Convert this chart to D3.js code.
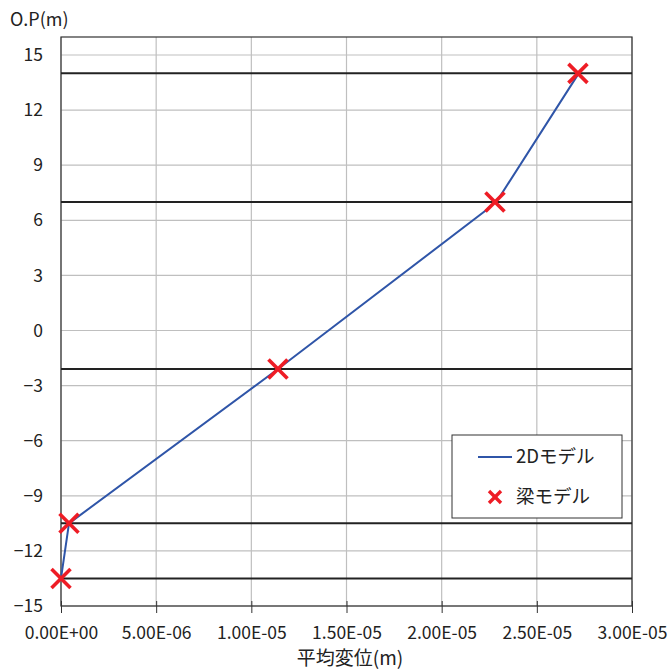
<!DOCTYPE html>
<html><head><meta charset="utf-8">
<script src="https://cdn.jsdelivr.net/npm/d3@7"></script>
<style>body{margin:0;background:#fff}svg{display:block}text{font-family:"Noto Sans CJK JP","Noto Sans",sans-serif;fill:#222}</style>
</head><body>
<script>
// data
const xTicks = [0, 5e-6, 1e-5, 1.5e-5, 2e-5, 2.5e-5, 3e-5];
const xTickLabels = ["0.00E+00","5.00E-06","1.00E-05","1.50E-05","2.00E-05","2.50E-05","3.00E-05"];
const yTicks = [-15,-12,-9,-6,-3,0,3,6,9,12,15];
const floorLevels = [14, 7, -2.1, -10.5, -13.5];
const lineX = [0, 4.2e-7, 1.14e-5, 2.24e-5, 2.30e-5, 2.72e-5];
const lineY = [-13.5, -10.5, -2.1, 6.6, 7.2, 14];
const beamX = [0, 4.2e-7, 1.14e-5, 2.28e-5, 2.716e-5];
const beamY = [-13.5, -10.5, -2.1, 7, 14];
const seriesNames = ["2Dモデル", "梁モデル"];
const xTitle = "平均変位(m)";
const yTitle = "O.P(m)";

const W = 671, H = 671;
const L = 61, R = 632, T = 37, B = 606;
const svg = d3.select("body").append("svg").attr("width", W).attr("height", H);
const x = d3.scaleLinear().domain([0, 3e-5]).range([L, R]);
const y = d3.scaleLinear().domain([-15, 15]).range([B, 55]);

// gridlines
svg.append("g").selectAll("line").data(xTicks).join("line")
  .attr("x1", d => x(d)).attr("x2", d => x(d)).attr("y1", T).attr("y2", B)
  .attr("stroke", "#bfbfbf").attr("stroke-width", 1.2);
svg.append("g").selectAll("line").data(yTicks).join("line")
  .attr("x1", L).attr("x2", R).attr("y1", d => y(d)).attr("y2", d => y(d))
  .attr("stroke", "#bfbfbf").attr("stroke-width", 1.2);

// frame
svg.append("rect").attr("x", L).attr("y", T).attr("width", R - L).attr("height", B - T)
  .attr("fill", "none").attr("stroke", "#333").attr("stroke-width", 1.2);

// x axis ticks + labels
const xa = svg.append("g").attr("transform", `translate(0,${B})`)
  .call(d3.axisBottom(x).tickValues(xTicks).tickFormat((d, i) => xTickLabels[i]).tickSize(7).tickPadding(14));
xa.select(".domain").remove();
xa.selectAll("line").attr("stroke", "#333").attr("y1", -5);
xa.selectAll("text").attr("font-size", 17.5).attr("fill", "#222").attr("dy", "0.71em");

// y axis labels
const ya = svg.append("g").attr("transform", `translate(${L},0)`)
  .call(d3.axisLeft(y).tickValues(yTicks).tickSize(0).tickPadding(18));
ya.select(".domain").remove();
ya.selectAll("text").attr("font-size", 17.5).attr("fill", "#222");

// floor lines
svg.append("g").selectAll("line").data(floorLevels).join("line")
  .attr("x1", L).attr("x2", R).attr("y1", d => y(d)).attr("y2", d => y(d))
  .attr("stroke", "#222").attr("stroke-width", 2);

// 2D line
const pts = lineX.map((v, i) => [v, lineY[i]]);
svg.append("path").datum(pts)
  .attr("d", d3.line().x(d => x(d[0])).y(d => y(d[1])))
  .attr("fill", "none").attr("stroke", "#2f55a8").attr("stroke-width", 2);

// X markers
const cross = (g, s) => {
  g.append("line").attr("x1", -s).attr("y1", -s).attr("x2", s).attr("y2", s);
  g.append("line").attr("x1", -s).attr("y1", s).attr("x2", s).attr("y2", -s);
};
beamX.forEach((v, i) => {
  const g = svg.append("g").attr("transform", `translate(${x(v)},${y(beamY[i])})`)
    .attr("stroke", "#ee1c25").attr("stroke-width", 3.6);
  cross(g, 9.5);
});

// legend
const lg = svg.append("g");
lg.append("rect").attr("x", 452).attr("y", 435).attr("width", 170).attr("height", 83)
  .attr("fill", "#fff").attr("stroke", "#333").attr("stroke-width", 1);
lg.append("line").attr("x1", 478).attr("x2", 512).attr("y1", 457).attr("y2", 457)
  .attr("stroke", "#2f55a8").attr("stroke-width", 2);
lg.append("text").attr("x", 516).attr("y", 463).attr("font-size", 18.5).text(seriesNames[0]);
const lgm = lg.append("g").attr("transform", "translate(495,497)").attr("stroke", "#ee1c25").attr("stroke-width", 3.4);
cross(lgm, 6);
lg.append("text").attr("x", 516).attr("y", 503).attr("font-size", 18.5).text(seriesNames[1]);

// titles
svg.append("text").attr("x", 10).attr("y", 26).attr("font-size", 18).text(yTitle);
svg.append("text").attr("x", 350).attr("y", 665).attr("text-anchor", "middle").attr("font-size", 19).text(xTitle);
</script>
</body></html>
